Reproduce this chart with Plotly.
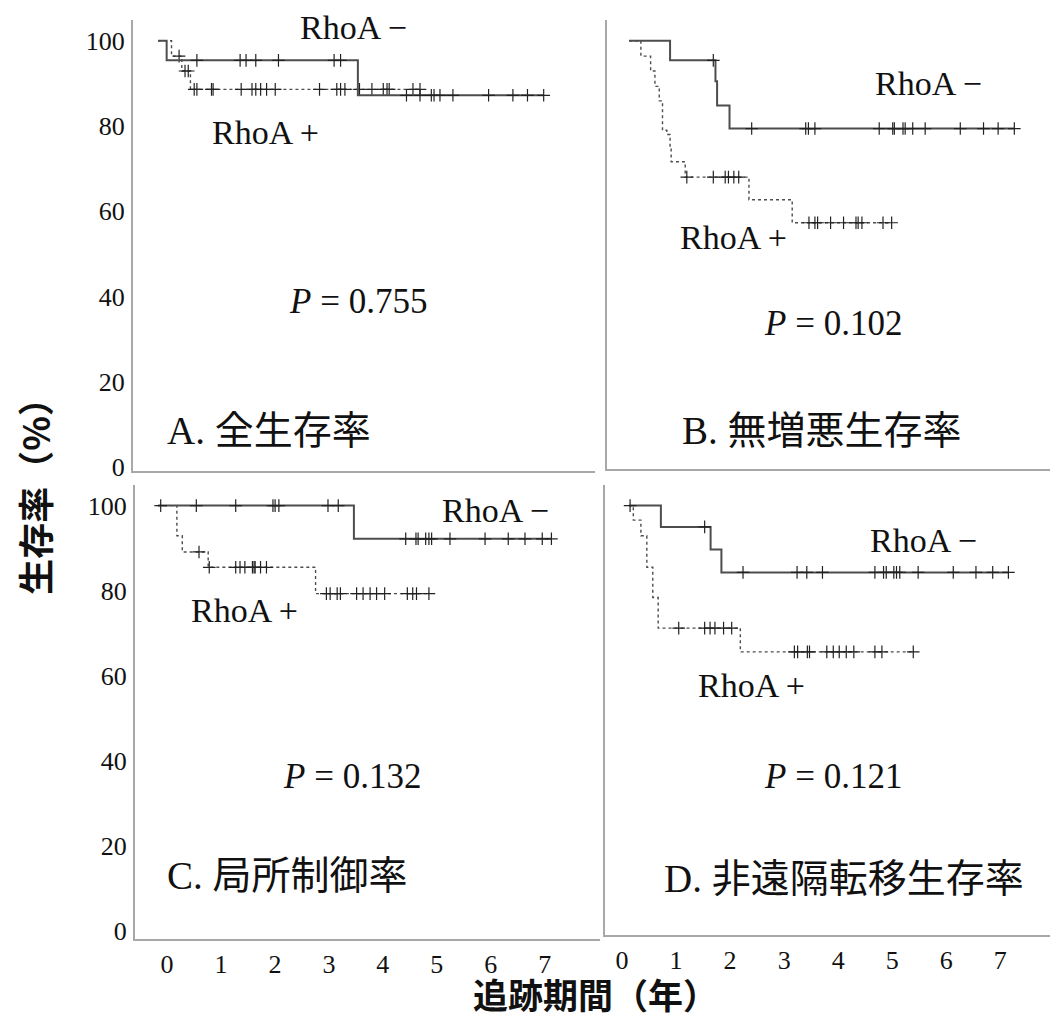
import plotly.graph_objects as go

# page is 1058x1032; browser body margin of 8px is taken into account
PAGE_W, PAGE_H = 1058, 1032
OFF = 8
W, H = PAGE_W - 2 * OFF, PAGE_H - 2 * OFF

# ---------------- data (years, survival %) ----------------
# A. overall survival
A_neg_drop_t = [0.16, 3.70]
A_neg_drop_s = [95.4, 87.2]
A_neg_cens = [0.72, 1.52, 1.63, 1.81, 2.23, 3.26, 3.38, 4.60, 4.85, 5.06, 5.11,
              5.22, 5.46, 6.12, 6.57, 6.84, 7.14]
A_pos_drop_t = [0.25, 0.44, 0.60]
A_pos_drop_s = [96.4, 92.9, 88.6]
A_pos_cens = [0.39, 0.50, 0.56, 0.67, 0.72, 0.99, 1.02, 1.54, 1.74, 1.81, 1.90,
              2.01, 2.17, 2.99, 3.31, 3.38, 3.46, 3.73, 3.96, 4.17, 4.24, 4.28,
              4.72, 4.85]

# B. progression-free survival
B_neg_drop_t = [0.76, 1.60, 1.63, 1.86]
B_neg_drop_s = [95.4, 90.5, 84.8, 79.4]
B_neg_cens = [1.56, 2.27, 3.27, 3.32, 3.44, 4.63, 4.88, 4.91, 5.07, 5.11, 5.25,
              5.48, 6.13, 6.56, 6.83, 7.13]
B_pos_drop_t = [0.22, 0.40, 0.48, 0.56, 0.62, 0.70, 0.76, 0.78, 1.04, 2.22, 3.02]
B_pos_drop_s = [96.4, 92.9, 89.3, 85.9, 79.0, 78.0, 75.1, 71.6, 68.0, 62.7, 57.3]
B_pos_cens = [1.07, 1.56, 1.78, 1.84, 1.94, 2.03, 3.33, 3.44, 3.49, 3.73, 3.97,
              4.20, 4.24, 4.31, 4.70, 4.86]

# C. local control
C_neg_drop_t = [3.63]
C_neg_drop_s = [92.2]
C_neg_cens = [0.05, 0.71, 1.44, 2.13, 2.17, 2.24, 3.15, 3.34, 4.59, 4.78, 4.82,
              4.96, 5.02, 5.07, 5.41, 6.06, 6.49, 6.80, 7.12, 7.29]
C_pos_drop_t = [0.35, 0.45, 0.93, 2.92]
C_pos_drop_s = [92.9, 89.1, 85.5, 79.3]
C_pos_cens = [0.76, 0.95, 1.44, 1.52, 1.61, 1.75, 1.78, 1.80, 1.90, 2.01, 3.12,
              3.19, 3.32, 3.38, 3.68, 3.80, 3.93, 4.05, 4.20, 4.62, 4.72, 4.79,
              5.02]

# D. distant-metastasis-free survival
D_neg_drop_t = [0.59, 1.51, 1.71]
D_neg_drop_s = [95.0, 89.7, 84.3]
D_neg_cens = [0.02, 1.40, 2.11, 3.11, 3.29, 3.58, 4.55, 4.71, 4.76, 4.90, 4.95,
              5.01, 5.35, 6.00, 6.42, 6.73, 7.02]
D_pos_drop_t = [0.08, 0.22, 0.33, 0.44, 0.54, 2.06]
D_pos_drop_s = [96.6, 92.9, 85.5, 78.4, 71.2, 65.6]
D_pos_cens = [0.92, 1.40, 1.50, 1.59, 1.75, 1.90, 3.06, 3.12, 3.30, 3.34, 3.66,
              3.78, 3.89, 4.02, 4.16, 4.55, 4.68, 5.26]

y_ticks = [0, 20, 40, 60, 80, 100]
x_ticks = [0, 1, 2, 3, 4, 5, 6, 7]

panel_titles = ["A. 全生存率", "B. 無増悪生存率", "C. 局所制御率", "D. 非遠隔転移生存率"]
p_texts = ["0.755", "0.102", "0.132", "0.121"]
y_title = "生存率（%）"
x_title = "追跡期間（年）"

panels = [
    (A_neg_drop_t, A_neg_drop_s, A_neg_cens, A_pos_drop_t, A_pos_drop_s, A_pos_cens),
    (B_neg_drop_t, B_neg_drop_s, B_neg_cens, B_pos_drop_t, B_pos_drop_s, B_pos_cens),
    (C_neg_drop_t, C_neg_drop_s, C_neg_cens, C_pos_drop_t, C_pos_drop_s, C_pos_cens),
    (D_neg_drop_t, D_neg_drop_s, D_neg_cens, D_pos_drop_t, D_pos_drop_s, D_pos_cens),
]


def level_at(t, drop_t, drop_s):
    s = 100.0
    for dt, ds in zip(drop_t, drop_s):
        if t >= dt:
            s = ds
    return s


def km_xy(drop_t, drop_s, cens):
    end = max(drop_t + cens)
    xs = [0.0] + list(drop_t) + [end]
    ys = [100.0] + list(drop_s) + [drop_s[-1] if drop_s else 100.0]
    return xs, ys


def fx(px):
    return (px - OFF) / W


def fy(py):
    return 1 - (py - OFF) / H


# ---------------- layout geometry (page pixels) ----------------
# (x0, x1, y_top, y_bottom, x-range, y-range)
boxes = [
    (133, 595, 20, 476, [-0.463, 8.09], [-0.93, 104.9]),
    (607, 1050, 20, 474, [-0.407, 7.79], [-0.46, 104.9]),
    (135, 600, 490, 949, [-0.426, 8.19], [-1.86, 104.9]),
    (605, 1050, 490, 945, [-0.444, 7.79], [-0.93, 104.9]),
]

fig = go.Figure()
serif = "Liberation Serif, Times New Roman, serif"
cjk = "Noto Sans CJK JP"
line_col = "#4d4d4d"
axis_col = "#a8a8a8"

for i, (data, box) in enumerate(zip(panels, boxes)):
    n = "" if i == 0 else str(i + 1)
    xa, ya = "x" + n, "y" + n
    nt, ns, nc, pt, ps, pc = data
    # RhoA+ dotted
    xs, ys = km_xy(pt, ps, pc)
    fig.add_trace(go.Scatter(x=xs, y=ys, mode="lines", line_shape="hv",
                             line=dict(color=line_col, width=1.4, dash="dot"),
                             xaxis=xa, yaxis=ya, showlegend=False, hoverinfo="skip"))
    fig.add_trace(go.Scatter(x=pc, y=[level_at(t, pt, ps) for t in pc], mode="markers",
                             marker=dict(symbol="cross-thin", size=9,
                                         line=dict(color="#222", width=1.2)),
                             xaxis=xa, yaxis=ya, showlegend=False, hoverinfo="skip"))
    # RhoA- solid
    xs, ys = km_xy(nt, ns, nc)
    fig.add_trace(go.Scatter(x=xs, y=ys, mode="lines", line_shape="hv",
                             line=dict(color=line_col, width=2),
                             xaxis=xa, yaxis=ya, showlegend=False, hoverinfo="skip"))
    fig.add_trace(go.Scatter(x=nc, y=[level_at(t, nt, ns) for t in nc], mode="markers",
                             marker=dict(symbol="cross-thin", size=9,
                                         line=dict(color="#222", width=1.2)),
                             xaxis=xa, yaxis=ya, showlegend=False, hoverinfo="skip"))

    x0, x1, yt, yb, xr, yr = box
    left = i in (0, 2)
    bottom = i in (2, 3)
    xax = dict(domain=[fx(x0), min(fx(x1), 1.0)], range=xr, anchor=ya,
               showline=True, linecolor=axis_col, linewidth=2,
               showgrid=False, zeroline=False, ticks="",
               tickvals=x_ticks, showticklabels=bottom,
               tickfont=dict(family=serif, size=26, color="#111"),
               ticklabelshift=9 if left else -7, ticklabelstandoff=1)
    yax = dict(domain=[fy(yb), fy(yt)], range=yr, anchor=xa,
               showline=True, linecolor=axis_col, linewidth=2,
               showgrid=False, zeroline=False, ticks="",
               tickvals=y_ticks, showticklabels=left,
               tickfont=dict(family=serif, size=26, color="#111"),
               ticklabelstandoff=1)
    fig.layout["xaxis" + n] = xax
    fig.layout["yaxis" + n] = yax

ann = []


def add_text(text, x, y, size, family=serif, xanchor="center", yanchor="middle",
             angle=0, weight="normal"):
    ann.append(dict(text=text, x=fx(x), y=fy(y), xref="paper", yref="paper",
                    showarrow=False, xanchor=xanchor, yanchor=yanchor, textangle=angle,
                    borderpad=0,
                    font=dict(family=family, size=size, color="#111", weight=weight)))


rho_pos = [((353, 28), (265, 134)), ((928, 84), (733, 240)),
           ((495, 516), (244, 617)), ((923, 546), (751, 693))]
p_pos = [(358, 305), (833, 327), (352, 785), (833, 785)]
title_pos = [(166, 435), (681, 435), (166, 885), (663, 888)]

for i in range(4):
    (nx, ny), (px_, py_) = rho_pos[i]
    add_text("RhoA \u2212", nx, ny, 34)
    add_text("RhoA +", px_, py_, 34)
    add_text("<i>P</i> = " + p_texts[i], p_pos[i][0], p_pos[i][1], 35)
    add_text(panel_titles[i], title_pos[i][0], title_pos[i][1], 39,
             family=serif + ", " + cjk, xanchor="left")

add_text(y_title, 34, 493, 36, family=cjk, angle=-90, weight="bold")
add_text(x_title, 595, 1004, 35, family=cjk, weight="bold")

fig.update_layout(width=W, height=H, margin=dict(l=0, r=0, t=0, b=0),
                  paper_bgcolor="white", plot_bgcolor="white", annotations=ann)

fig.write_html("out.html")
